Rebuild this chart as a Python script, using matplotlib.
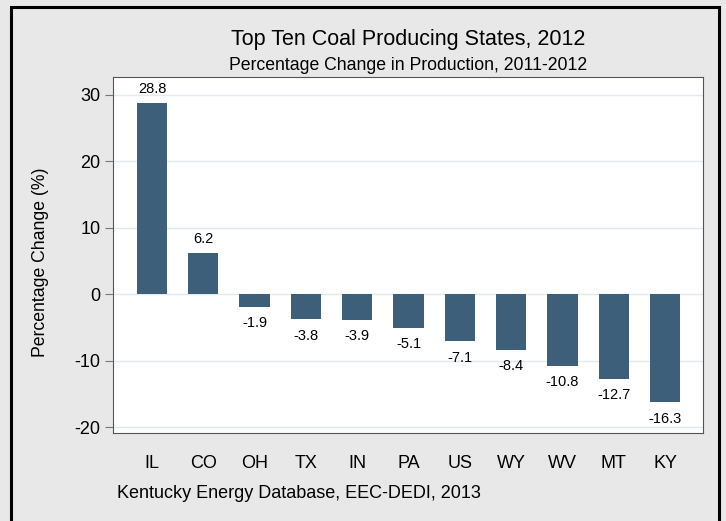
import matplotlib
matplotlib.use("Agg")
import matplotlib.pyplot as plt
from matplotlib.patches import Rectangle

states = ["IL", "CO", "OH", "TX", "IN", "PA", "US", "WY", "WV", "MT", "KY"]
changes = [28.8, 6.2, -1.9, -3.8, -3.9, -5.1, -7.1, -8.4, -10.8, -12.7, -16.3]
yticks = [-20, -10, 0, 10, 20, 30]

plt.rcParams['font.family'] = ['Liberation Sans', 'DejaVu Sans']

W, H = 726, 521
fig = plt.figure(figsize=(W / 100, H / 100), dpi=100)
fig.patch.set_facecolor('#e8e8e8')

# outer frame
fig.patches.append(Rectangle((11 / W, -0.05), (719 - 11) / W, 1.05 - 7 / H,
                             transform=fig.transFigure, fill=False,
                             edgecolor='black', linewidth=2.2, zorder=10))

ax = fig.add_axes([113 / W, (H - 433) / H, 590 / W, 356 / H])
ax.set_facecolor('white')

x = list(range(len(states)))
ax.bar(x, changes, width=0.59, color='#3e5f7a', zorder=3)

for xi, v in zip(x, changes):
    if v >= 0:
        ax.text(xi, v + 1.1, f"{v:.1f}", ha='center', va='bottom', fontsize=10.5, color='black')
    else:
        ax.text(xi, v - 1.4, f"{v:.1f}", ha='center', va='top', fontsize=10.5, color='black')

ax.set_xlim(-0.76, 10.74)
ax.set_ylim(-20.9, 32.7)
ax.set_yticks(yticks)
ax.set_yticklabels([str(t) for t in yticks], fontsize=13)
ax.set_xticks(x)
ax.set_xticklabels(states, fontsize=13)
ax.tick_params(axis='x', length=0, pad=16)
ax.tick_params(axis='y', length=6, color='#777777', width=0.8, pad=3)

for t in yticks:
    ax.axhline(t, color='#e3eaee', linewidth=1.0, zorder=1)

for s in ax.spines.values():
    s.set_color('#555555')
    s.set_linewidth(0.8)

ax.set_ylabel("Percentage Change (%)", fontsize=12.7)
ax.yaxis.set_label_coords((49 - 113) / 590, 0.48)

fig.text(408 / W, 1 - 40 / H, "Top Ten Coal Producing States, 2012",
         ha='center', va='center', fontsize=15.5)
fig.text(408 / W, 1 - 66 / H, "Percentage Change in Production, 2011-2012",
         ha='center', va='center', fontsize=12.7)
fig.text(117 / W, 1 - 493 / H, "Kentucky Energy Database, EEC-DEDI, 2013",
         ha='left', va='center', fontsize=13)

fig.savefig("out.png", dpi=100, facecolor=fig.get_facecolor())
